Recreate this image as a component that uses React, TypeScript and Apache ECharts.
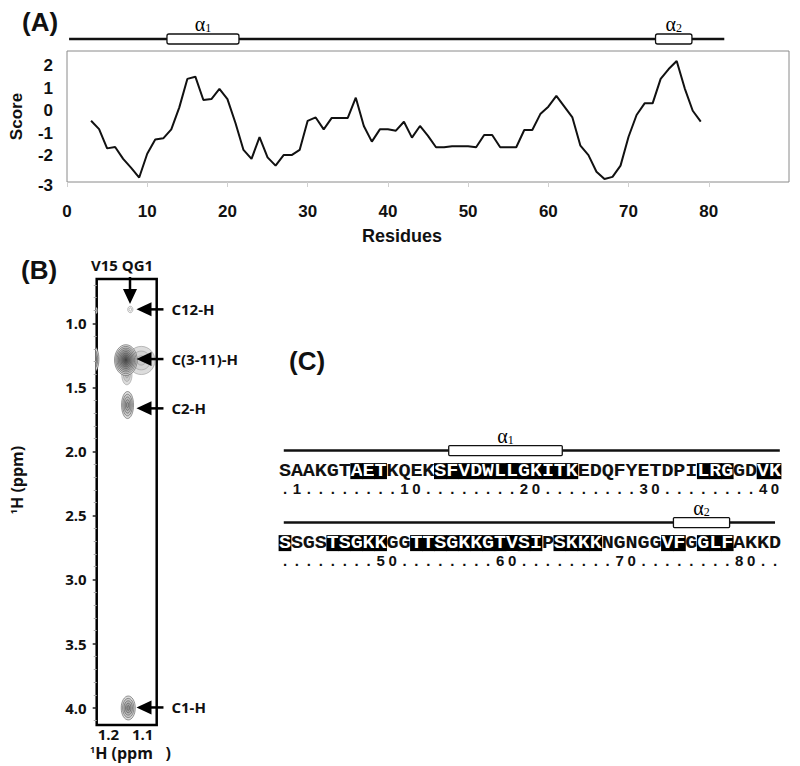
import { useEffect, useRef } from 'react';
import * as echarts from 'echarts';

// ---------- Panel A: score profile ----------
const residues = [3, 4, 5, 6, 7, 8, 9, 10, 11, 12, 13, 14, 15, 16, 17, 18, 19, 20, 21, 22, 23, 24, 25, 26, 27, 28, 29, 30, 31, 32, 33, 34, 35, 36, 37, 38, 39, 40, 41, 42, 43, 44, 45, 46, 47, 48, 49, 50, 51, 52, 53, 54, 55, 56, 57, 58, 59, 60, 61, 62, 63, 64, 65, 66, 67, 68, 69, 70, 71, 72, 73, 74, 75, 76, 77, 78, 79];
const scores = [-0.45, -0.82, -1.68, -1.62, -2.15, -2.55, -2.98, -1.92, -1.28, -1.23, -0.83, 0.15, 1.42, 1.52, 0.48, 0.52, 0.97, 0.52, -0.55, -1.75, -2.15, -1.18, -2.08, -2.45, -1.98, -1.98, -1.75, -0.45, -0.3, -0.83, -0.32, -0.32, -0.32, 0.58, -0.68, -1.38, -0.83, -0.83, -0.89, -0.49, -1.2, -0.68, -1.12, -1.63, -1.63, -1.58, -1.58, -1.58, -1.63, -1.08, -1.08, -1.63, -1.63, -1.63, -0.86, -0.86, -0.15, 0.18, 0.66, 0.18, -0.3, -1.56, -1.98, -2.72, -3.05, -2.95, -2.45, -1.16, -0.19, 0.33, 0.33, 1.42, 1.86, 2.22, 1.0, 0.0, -0.49];
const residueTicks = [0, 10, 20, 30, 40, 50, 60, 70, 80];
const scoreTicks = [-3, -2, -1, 0, 1, 2];
const backboneA = [[1, 0], [82, 0]];
const helixStartA = [13.1, 73.5];
const helixEndA = [22, 78];
const helixNameA = ['1', '2'];

// ---------- Panel B: NMR strip ----------
const ppmTicksY = [1.0, 1.5, 2.0, 2.5, 3.0, 3.5, 4.0];
const ppmMinorY = [0.7, 0.8, 0.9, 1.1, 1.2, 1.3, 1.4, 1.6, 1.7, 1.8, 1.9, 2.1, 2.2, 2.3, 2.4, 2.6, 2.7, 2.8, 2.9, 3.1, 3.2, 3.3, 3.4, 3.6, 3.7, 3.8, 3.9, 4.1];
const ppmTicksX = [1.2, 1.1];
// peaks: x ppm, y ppm, width ppm, height ppm, contour levels, darkest grey (-1 = hollow)
const peakX = [1.242, 1.239, 1.104, 1.146, 1.149, 1.136, 1.144, 1.142];
const peakY = [1.28, 0.9, 1.29, 1.40, 1.287, 0.892, 1.638, 4.003];
const peakW = [0.029, 0.015, 0.08, 0.03, 0.066, 0.015, 0.035, 0.041];
const peakH = [0.2, 0.06, 0.22, 0.16, 0.24, 0.05, 0.211, 0.187];
const peakLevels = [4, 2, 3, 3, 9, 2, 5, 5];
const peakTone = [70, 120, 200, 185, 70, -1, 150, 140];
const arrowTipX = 1.118;
const arrowY = [0.891, 1.279, 1.664, 3.999];
const arrowLabel = ['C12-H', 'C(3-11)-H', 'C2-H', 'C1-H'];

// ---------- Panel C: sequence ----------
const seqRows = [
  'SAAKGTAETKQEKSFVDWLLGKITKEDQFYETDPILRGGDVK',
  'SSGSTSGKKGGTTSGKKGTVSIPSKKKNGNGGVFGGLFAKKD',
];
const numRows = [
  '.1........10........20........30........40',
  '........50........60........70........80..',
];
const hlRows = [
  [[6, 8], [13, 24], [35, 37], [40, 41]],
  [[0, 0], [4, 8], [11, 21], [23, 26], [32, 33], [35, 37]],
];
const backboneC = [[0, -0.1, 41.4], [1, -0.1, 41.0]];
const helicesC = [[0, 13.7, 23.2, '1'], [1, 32.5, 37.2, '2']];

const alphaRich = {
  a: { fontFamily: 'Liberation Serif', fontSize: 20, color: '#111' },
  n: { fontFamily: 'Liberation Serif', fontSize: 12, color: '#111', verticalAlign: 'bottom' as const, padding: [7, 0, 0, 0] },
};

export default function App() {
  const ref = useRef<HTMLDivElement>(null);
  useEffect(() => {
    if (!ref.current) return;
    const chart = echarts.init(ref.current, undefined, { renderer: 'svg' });

    const seqItems: { i: number; row: number; ch: string; hl: boolean; kind: number }[] = [];
    seqRows.forEach((s, row) => {
      for (let i = 0; i < s.length; i++) {
        const hl = hlRows[row].some(([a, b]) => i >= a && i <= b);
        seqItems.push({ i, row, ch: s[i], hl, kind: 0 });
      }
    });
    numRows.forEach((s, row) => {
      for (let i = 0; i < s.length; i++) {
        seqItems.push({ i, row, ch: s[i], hl: false, kind: 1 });
      }
    });
    const seqData = seqItems.map((d) => [d.i, d.row + (d.kind === 0 ? 0.585 : 0.825)]);

    const structItems = [
      ...backboneC.map((b) => ({ row: b[0] as number, s: b[1] as number, e: b[2] as number, helix: false, name: '' })),
      ...helicesC.map((h) => ({ row: h[0] as number, s: h[1] as number, e: h[2] as number, helix: true, name: h[3] as string })),
    ];

    const bold = { fontWeight: 'bold' as const, color: '#111' };

    const option: any = {
      animation: false,
      textStyle: { fontFamily: 'Liberation Sans' },
      grid: [
        { left: 61, top: 51, width: 728, height: 131, show: true, borderColor: '#8a8a8a', borderWidth: 1, backgroundColor: 'transparent' },
        { left: 61, top: 29, width: 728, height: 20 },
        { left: 96.7, top: 279, width: 60, height: 446, show: true, borderColor: '#000', borderWidth: 2.5, backgroundColor: 'transparent' },
        { left: 279, top: 429, width: 502, height: 144 },
      ],
      xAxis: [
        {
          gridIndex: 0, type: 'value', min: 0, max: 90,
          axisLine: { show: false, onZero: false }, splitLine: { show: false },
          axisTick: { show: true, length: 5, customValues: residueTicks, lineStyle: { color: '#d0d0d0' } },
          axisLabel: { customValues: residueTicks, margin: 21, fontSize: 17, ...bold },
        },
        { gridIndex: 1, type: 'value', min: 0, max: 90, show: false },
        {
          gridIndex: 2, type: 'value', min: 1.059, max: 1.234, inverse: true,
          axisLine: { show: false, onZero: false }, splitLine: { show: false }, axisTick: { show: false },
          axisLabel: { customValues: ppmTicksX, formatter: (v: number) => v.toFixed(1), margin: 1, fontSize: 15, lineHeight: 15, fontFamily: 'Open Sans', ...bold },
        },
        { gridIndex: 3, type: 'value', min: -0.5, max: 41.5, show: false },
      ],
      yAxis: [
        {
          gridIndex: 0, type: 'value', min: -3.18, max: 2.665,
          axisLine: { show: false, onZero: false }, splitLine: { show: false }, axisTick: { show: false },
          axisLabel: {
            customValues: scoreTicks, margin: 14, fontSize: 17, ...bold,
            formatter: (v: number) => (v === -3 ? '{d|-3}' : String(v)),
            rich: { d: { fontSize: 17, fontWeight: 'bold', color: '#111', padding: [16, 0, 0, 0] } },
          },
          name: 'Score', nameLocation: 'middle', nameGap: 42, nameRotate: 90,
          nameTextStyle: { fontSize: 17, ...bold },
        },
        { gridIndex: 1, type: 'value', min: -1, max: 1, show: false },
        {
          gridIndex: 2, type: 'value', min: 0.654, max: 4.136, inverse: true, position: 'left',
          axisLine: { show: false, onZero: false }, splitLine: { show: false },
          axisTick: { show: true, length: 4, customValues: ppmTicksY, lineStyle: { color: '#222', width: 1.5 } },
          axisLabel: { customValues: ppmTicksY, formatter: (v: number) => v.toFixed(1), margin: 10, fontSize: 15, fontFamily: 'Open Sans', ...bold },
        },
        {
          gridIndex: 2, type: 'value', min: 0.654, max: 4.136, inverse: true, position: 'left',
          axisLine: { show: false, onZero: false }, splitLine: { show: false }, axisLabel: { show: false },
          axisTick: { show: true, length: 3, customValues: ppmMinorY, lineStyle: { color: '#aaa', width: 1 } },
        },
        { gridIndex: 3, type: 'value', min: 0, max: 2, inverse: true, show: false },
      ],
      series: [
        {
          type: 'line', xAxisIndex: 0, yAxisIndex: 0,
          data: residues.map((r, i) => [r, scores[i]]),
          showSymbol: false, symbol: 'none',
          lineStyle: { color: '#111', width: 2 },
        },
        {
          type: 'line', xAxisIndex: 1, yAxisIndex: 1, data: backboneA, symbol: 'none',
          lineStyle: { color: '#111', width: 2.5 }, z: 1,
        },
        {
          type: 'custom', xAxisIndex: 1, yAxisIndex: 1, z: 3,
          data: helixStartA.map((s) => [s, 0]),
          renderItem: (params: any, api: any) => {
            const k = params.dataIndex;
            const a = api.coord([helixStartA[k], 0]);
            const b = api.coord([helixEndA[k], 0]);
            return {
              type: 'group',
              children: [
                { type: 'rect', shape: { x: a[0], y: a[1] - 5, width: b[0] - a[0], height: 10, r: 2 }, style: { fill: '#fff', stroke: '#111', lineWidth: 1.3 } },
                { type: 'text', x: (a[0] + b[0]) / 2, y: a[1] - 15, style: { text: `{a|α}{n|${helixNameA[k]}}`, rich: alphaRich, align: 'center', verticalAlign: 'middle' } },
              ],
            };
          },
        },
        {
          type: 'custom', xAxisIndex: 2, yAxisIndex: 2, clip: true, z: 2,
          data: peakX.map((x, i) => [x, peakY[i]]),
          renderItem: (params: any, api: any) => {
            const k = params.dataIndex;
            const c = api.coord([peakX[k], peakY[k]]);
            const s = api.size([peakW[k], peakH[k]]);
            const lv = peakLevels[k];
            const tone = peakTone[k];
            const children: any[] = [];
            for (let j = 0; j < lv; j++) {
              const f = 1 - j / lv;
              const g = lv === 1 ? tone : Math.round(220 - (220 - tone) * (j / (lv - 1)));
              children.push({
                type: 'ellipse',
                shape: { cx: c[0], cy: c[1], rx: (s[0] / 2) * f, ry: (s[1] / 2) * f },
                style: {
                  fill: tone < 0 ? 'rgba(255,255,255,0)' : `rgb(${g},${g},${g})`,
                  stroke: tone < 0 ? '#888' : tone > 170 ? '#999' : '#555',
                  lineWidth: 0.6,
                },
              });
            }
            return { type: 'group', children };
          },
        },
        {
          type: 'custom', xAxisIndex: 2, yAxisIndex: 2, clip: false, z: 5,
          data: arrowY.map((y) => [arrowTipX, y]),
          renderItem: (params: any, api: any) => {
            const k = params.dataIndex;
            const c = api.coord([arrowTipX, arrowY[k]]);
            const x = c[0], y = c[1];
            return {
              type: 'group',
              children: [
                { type: 'polygon', shape: { points: [[x, y], [x + 15, y - 7], [x + 15, y + 7]] }, style: { fill: '#000' } },
                { type: 'line', shape: { x1: x + 13, y1: y, x2: x + 27, y2: y }, style: { stroke: '#000', lineWidth: 2.5 } },
                { type: 'text', x: x + 35, y, style: { text: arrowLabel[k], fill: '#111', fontFamily: 'Open Sans', fontWeight: 'bold', fontSize: 15, align: 'left', verticalAlign: 'middle' } },
              ],
            };
          },
        },
        {
          type: 'custom', xAxisIndex: 3, yAxisIndex: 4, clip: false, z: 2,
          data: structItems.map((d) => [d.s, d.row + 0.3]),
          renderItem: (params: any, api: any) => {
            const d = structItems[params.dataIndex];
            const a = api.coord([d.s, d.row + 0.3]);
            const b = api.coord([d.e, d.row + 0.3]);
            if (!d.helix) {
              return { type: 'line', shape: { x1: a[0], y1: a[1], x2: b[0], y2: b[1] }, style: { stroke: '#111', lineWidth: 2.5 } };
            }
            return {
              type: 'group',
              children: [
                { type: 'rect', shape: { x: a[0], y: a[1] - 5, width: b[0] - a[0], height: 10, r: 1 }, style: { fill: '#fff', stroke: '#111', lineWidth: 1.3 } },
                { type: 'text', x: (a[0] + b[0]) / 2, y: a[1] - 15, style: { text: `{a|α}{n|${d.name}}`, rich: alphaRich, align: 'center', verticalAlign: 'middle' } },
              ],
            };
          },
        },
        {
          type: 'custom', xAxisIndex: 3, yAxisIndex: 4, clip: false, z: 3,
          data: seqData,
          renderItem: (params: any, api: any) => {
            const d = seqItems[params.dataIndex];
            const c = api.coord([api.value(0), api.value(1)]);
            const w = api.size([1, 0])[0];
            const children: any[] = [];
            if (d.hl) {
              children.push({ type: 'rect', shape: { x: c[0] - w / 2 - 0.4, y: c[1] - 8, width: w + 0.8, height: 16 }, style: { fill: '#000' } });
            }
            children.push({
              type: 'text', x: c[0], y: c[1], scaleX: d.kind ? 1 : 1.12,
              style: {
                text: d.ch, fill: d.hl ? '#fff' : '#111',
                fontFamily: d.kind ? 'Liberation Sans' : 'Liberation Mono',
                fontWeight: 'bold', fontSize: d.kind ? 15 : 18,
                align: 'center', verticalAlign: 'middle',
              },
            });
            return { type: 'group', children };
          },
        },
      ],
      graphic: [
        { type: 'text', x: 22, y: 22, style: { text: '(A)', fontFamily: 'Liberation Sans', fontWeight: 'bold', fontSize: 26, fill: '#111', verticalAlign: 'middle' } },
        { type: 'text', x: 21, y: 270, style: { text: '(B)', fontFamily: 'Liberation Sans', fontWeight: 'bold', fontSize: 26, fill: '#111', verticalAlign: 'middle' } },
        { type: 'text', x: 289, y: 361, style: { text: '(C)', fontFamily: 'Liberation Sans', fontWeight: 'bold', fontSize: 26, fill: '#111', verticalAlign: 'middle' } },
        { type: 'text', x: 402, y: 236, style: { text: 'Residues', fontFamily: 'Liberation Sans', fontWeight: 'bold', fontSize: 18, fill: '#111', align: 'center', verticalAlign: 'middle' } },
        { type: 'text', x: 122, y: 265, style: { text: 'V15 QG1', fontFamily: 'Open Sans', fontWeight: 'bold', fontSize: 15, fill: '#111', align: 'center', verticalAlign: 'middle' } },
        { type: 'line', shape: { x1: 130, y1: 277, x2: 130, y2: 292 }, style: { stroke: '#000', lineWidth: 2.5 } },
        { type: 'polygon', shape: { points: [[123, 289], [137, 289], [130, 304]] }, style: { fill: '#000' } },
        {
          type: 'text', x: 17, y: 480, rotation: Math.PI / 2,
          style: {
            text: '{s|1}{m|H (ppm)}', align: 'center', verticalAlign: 'middle',
            rich: {
              s: { fontFamily: 'Open Sans', fontSize: 9, fontWeight: 'bold', fill: '#111', verticalAlign: 'top' },
              m: { fontFamily: 'Open Sans', fontSize: 16, fontWeight: 'bold', fill: '#111' },
            },
          },
        },
        {
          type: 'text', x: 90, y: 753,
          style: {
            text: '{s|1}{m|H (ppm   )}', align: 'left', verticalAlign: 'middle',
            rich: {
              s: { fontFamily: 'Open Sans', fontSize: 9, fontWeight: 'bold', fill: '#111', verticalAlign: 'top' },
              m: { fontFamily: 'Open Sans', fontSize: 16, fontWeight: 'bold', fill: '#111', lineHeight: 17 },
            },
          },
        },
      ],
    };
    chart.setOption(option);
    return () => chart.dispose();
  }, []);
  return <div ref={ref} style={{ position: 'fixed', left: 0, top: 0, width: 800, height: 766, background: '#fff' }} />;
}
